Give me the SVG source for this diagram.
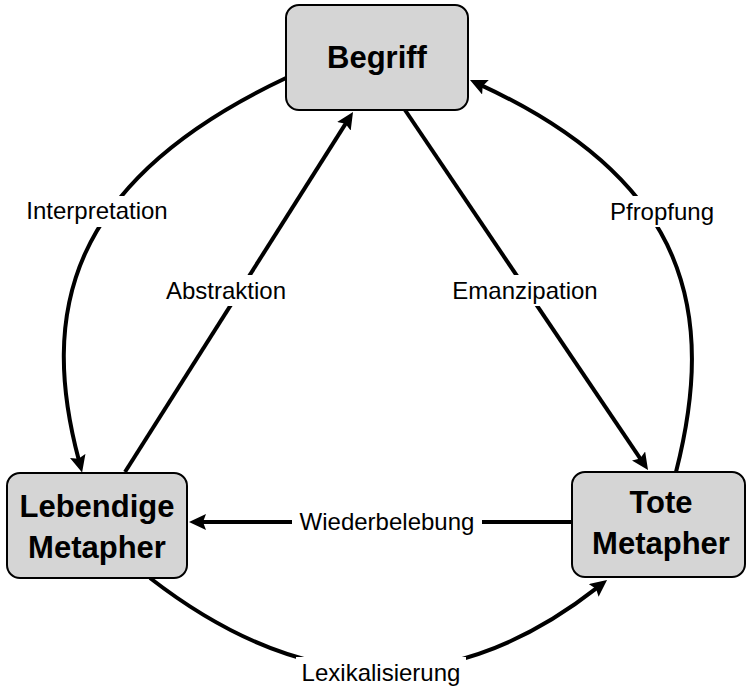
<svg xmlns="http://www.w3.org/2000/svg" width="748" height="691" viewBox="0 0 748 691">
<style>
.node rect{fill:#d5d5d5;stroke:#000;stroke-width:2}
.node text{font-family:"Liberation Sans",Arial,Helvetica,sans-serif;font-weight:bold;font-size:31px;fill:#000;text-anchor:middle}
.edge{fill:none;stroke:#000;stroke-width:4;marker-end:url(#arrow)}
.lbg{fill:#fff;stroke:none}
.lbl{font-family:"Liberation Sans",Arial,Helvetica,sans-serif;font-size:24px;fill:#000;text-anchor:middle}
</style>
<defs>
<marker id="arrow" markerUnits="userSpaceOnUse" markerWidth="17" markerHeight="16" viewBox="0 0 17 16" refX="5" refY="8" orient="auto">
<path d="M0,0 L17,8 L0,16 L3,8 z" fill="#000"/>
</marker>
</defs>
<rect width="748" height="691" fill="#fff"/>
<g id="connectors">
<path class="edge" d="M286,78 C65,182 40,315 79,460.8"/>
<path class="edge" d="M676,472 C716,315 691,182 480.9,85.1"/>
<path class="edge" d="M125,472 L346.6,122.1"/>
<path class="edge" d="M405,110 L641.3,460.1"/>
<path class="edge" d="M572,522 L201,522"/>
<path class="edge" d="M150,578 Q381,757 597.6,587.4"/>
<rect class="lbg" x="22" y="196" width="150" height="31"/>
<text class="lbl" x="97" y="219">Interpretation</text>
<rect class="lbg" x="160" y="275" width="132" height="31"/>
<text class="lbl" x="226" y="299">Abstraktion</text>
<rect class="lbg" x="447" y="275" width="156" height="31"/>
<text class="lbl" x="525" y="299">Emanzipation</text>
<rect class="lbg" x="605" y="196" width="114" height="31"/>
<text class="lbl" x="662" y="220">Pfropfung</text>
<rect class="lbg" x="292" y="506" width="190" height="32"/>
<text class="lbl" x="387" y="530">Wiederbelebung</text>
<rect class="lbg" x="296" y="657" width="170" height="32"/>
<text class="lbl" x="381" y="681">Lexikalisierung</text>
</g>
<g id="begriff" class="node">
<rect x="286" y="5" width="182" height="105" rx="13" ry="13"/>
<text x="377" y="68">Begriff</text>
</g>
<g id="lebendige-metapher" class="node">
<rect x="7" y="473" width="180" height="105" rx="13" ry="13"/>
<text x="97" y="517">Lebendige</text>
<text x="97" y="558">Metapher</text>
</g>
<g id="tote-metapher" class="node">
<rect x="572" y="472" width="173" height="105" rx="13" ry="13"/>
<text x="661" y="513">Tote</text>
<text x="661" y="554">Metapher</text>
</g>
</svg>
